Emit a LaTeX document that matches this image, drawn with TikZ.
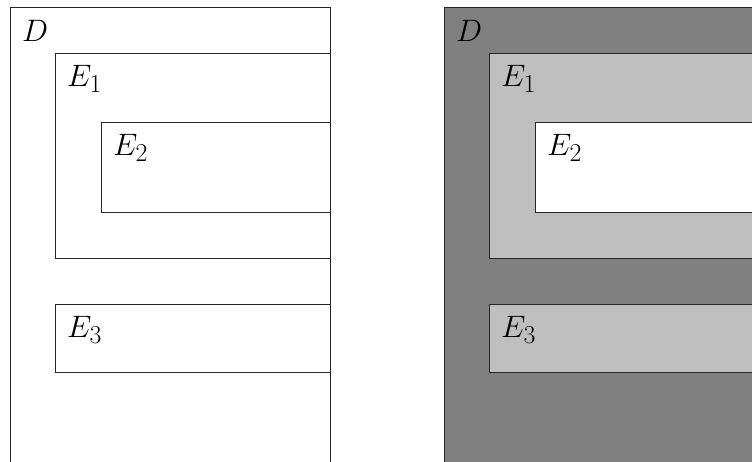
\RequirePackage{fix-cm}
\documentclass[tikz,border=0pt]{standalone}
\DeclareMathSizes{31}{31}{25.8}{20.7}
\begin{document}
\begin{tikzpicture}[x=1pt,y=-1pt,
  box/.style={draw=black!85,line width=0.9pt},
  lab/.style={anchor=north west,inner sep=0pt,font=\fontsize{31}{37}\selectfont}]
\useasboundingbox (0,0) rectangle (752,461);
\clip (0,0) rectangle (752,461);
% left panel
\draw[box,fill=white] (10,7) rectangle (330,480);
\draw[box] (55,53) rectangle (330,258);
\draw[box] (101,122) rectangle (330,212);
\draw[box] (55,304) rectangle (330,372);
\node[lab] (lD) at (22,20) {$D$};
\node[lab] (lE1) at (67,65) {$E_1$};
\node[lab] (lE2) at (113,134) {$E_2$};
\node[lab] (lE3) at (67,316) {$E_3$};
% right panel
\begin{scope}[xshift=434pt]
\draw[box,fill=black!50] (10,7) rectangle (330,480);
\draw[box,fill=black!25] (55,53) rectangle (330,258);
\draw[box,fill=white] (101,122) rectangle (330,212);
\draw[box,fill=black!25] (55,304) rectangle (330,372);
\node[lab] (rD) at (22,20) {$D$};
\node[lab] (rE1) at (67,65) {$E_1$};
\node[lab] (rE2) at (113,134) {$E_2$};
\node[lab] (rE3) at (67,316) {$E_3$};
\end{scope}
\end{tikzpicture}
\end{document}
